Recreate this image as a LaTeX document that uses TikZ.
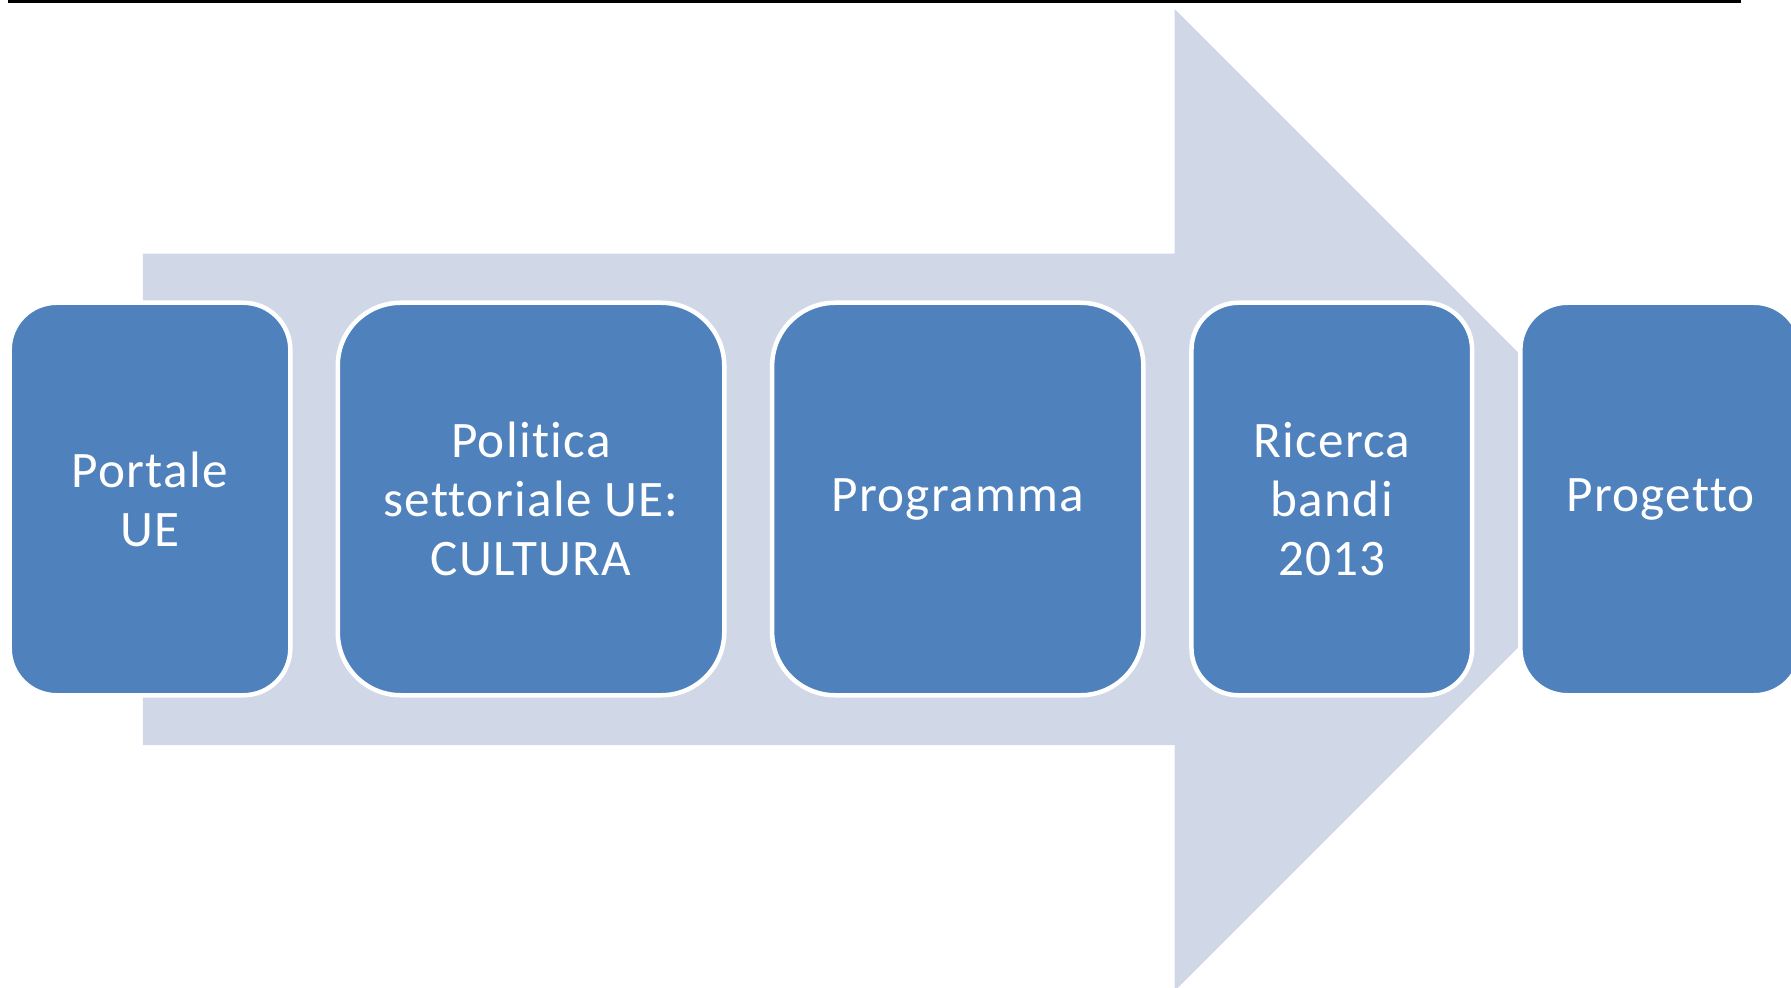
\documentclass[tikz,border=0pt]{standalone}
\usepackage{fontspec}
\setmainfont{Carlito}[Ligatures={NoCommon,NoContextual},LetterSpace=2.5]
\definecolor{boxblue}{HTML}{4F81BD}
\definecolor{arrowgrey}{HTML}{D0D8E8}
\tikzset{
  stepbox/.style={draw=white, line width=2.25pt, fill=boxblue, text=white,
    rectangle, inner sep=0pt, align=center, minimum height=196.25pt,
    font=\fontsize{25.6}{29.5}\selectfont},
  narrowbox/.style={stepbox, minimum width=140.35pt, rounded corners=23.5pt},
  widebox/.style={stepbox, rounded corners=31.5pt}
}
\begin{document}
\begin{tikzpicture}[x=0.5pt,y=-0.5pt]
\useasboundingbox (0,0) rectangle (1791,988);
\clip (0,0) rectangle (1791,988);
% frame edge at the top
\draw[line width=1.25pt] (9,-10) -- (9,1.5) -- (1740,1.5) -- (1740,-10);
% big background arrow
\fill[arrowgrey] (142.8,253.6) -- (1174.5,253.6) -- (1174.5,9) -- (1665.5,500)
  -- (1174.5,991) -- (1174.5,745.2) -- (142.8,745.2) -- cycle;
% steps
\node[narrowbox] (portale) at (150,499) {Portale\\UE};
\node[widebox, minimum width=193.25pt] (politica) at (531,499) {Politica\\settoriale UE:\\CULTURA};
\node[widebox, minimum width=185.6pt] (programma) at (957.75,499) {Programma};
\node[narrowbox] (ricerca) at (1331.8,499) {Ricerca\\bandi\\2013};
\node[narrowbox] (progetto) at (1660.7,499) {Progetto};
\end{tikzpicture}
\end{document}
